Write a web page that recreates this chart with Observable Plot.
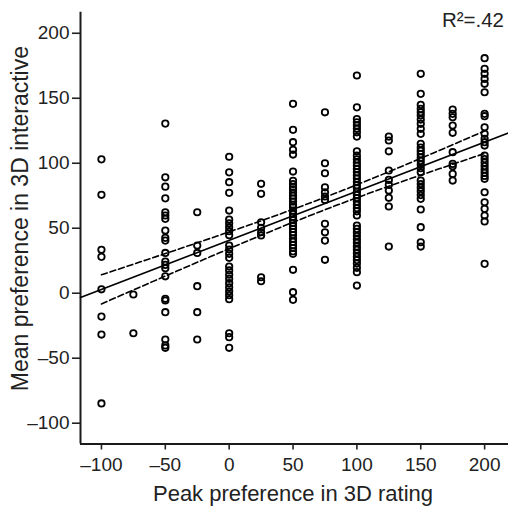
<!DOCTYPE html>
<html>
<head>
<meta charset="utf-8">
<script src="https://cdn.jsdelivr.net/npm/d3@7"></script>
<script src="https://cdn.jsdelivr.net/npm/@observablehq/plot@0.6"></script>
<style>
  html, body { margin: 0; padding: 0; background: #fff; }
  svg { display: block; }
</style>
</head>
<body>
<div id="chart"></div>
<script>
// Peak preference levels (x) and the mean interactive preference values (y) read at each level
const peakLevels = [-100, -75, -50, -25, 0, 25, 50, 75, 100, 125, 150, 175, 200];

const yAtMinus100 = [103, 75.7, 33.4, 28, 3, -18, -31.8, -84.8];
const yAtMinus75 = [-1, -30.8];
const yAtMinus50 = [130.5, 89.2, 82, 73, 62.3, 59.8, 57.2, 48.2, 42.6, 40.5, 31, 24.4, 21.8, 19.2, 13, -4.3, -5.6, -14.6, -35.6, -40.2, -42];
const yAtMinus25 = [62.3, 36.7, 31, 5.4, -14.6, -35.6];
const yAt0 = [105, 93, 85.4, 77.2, 63.6, 56.7, 53.8, 50.8, 47.7, 44.6, 36.7, 33.6, 30.3, 27.2, 20.5, 17.5, 14.2, 11.1, 7.7, 4.6, 1.5, -1.5, -4.6, -30.8, -33.8, -42];
const yAt25 = [84.2, 76.5, 54.6, 50.3, 46.9, 44.4, 12.3, 9.2];
const yAt50 = [145.7, 125.7, 116.2, 110.3, 106.7, 93.6, 86.5, 84, 81.8, 80, 77.5, 75, 72.8, 70.5, 68, 66.2, 63.5, 61, 58.8, 56.5, 54, 51.7, 49.5, 47, 44.8, 42, 39.5, 37, 34.8, 32.2, 30.3, 18, 0.8, -5.1];
const yAt75 = [139.2, 100, 92.3, 81.5, 77.7, 74.4, 71.8, 53.4, 46.9, 40.5, 25.7];
const yAt100 = [167.5, 143, 134, 131.5, 129, 126.5, 123.8, 120.5, 109.2, 105.8, 103, 100.4, 98, 95.6, 93, 90.5, 88.2, 85.5, 83, 80.7, 78, 75.6, 73.2, 70.5, 68, 65.4, 63, 59.8, 52, 49.5, 46.8, 44, 41.3, 38.8, 36, 33.5, 30.7, 28, 25.5, 22.8, 19.5, 16.2, 5.9];
const yAt125 = [120.5, 117.5, 109.2, 94.4, 87.2, 83.4, 79, 73.4, 66.7, 35.9];
const yAt150 = [168.8, 153.4, 144.9, 141.8, 139.2, 136.7, 133.6, 130.3, 126.5, 122.6, 114.9, 112, 109.5, 107, 104.3, 101.8, 99, 96.2, 93.1, 86.7, 84, 81.2, 78.5, 75.5, 72.6, 64.4, 50.8, 39.2, 35.9];
const yAt175 = [141.3, 138, 135.4, 129, 123.4, 108.5, 99.5, 97.7, 91.8, 86.7];
const yAt200 = [180.8, 172.6, 168.8, 164.9, 161.1, 154.6, 138, 136.2, 127.7, 122.6, 118.8, 116.2, 113.6, 105.9, 103.2, 100.5, 97.8, 95.2, 92.6, 90.2, 88, 77.7, 70, 64.9, 59.8, 55.2, 22.6];

const xTicks = [-100, -50, 0, 50, 100, 150, 200];
const yTicks = [-100, -50, 0, 50, 100, 150, 200];
const xTitle = "Peak preference in 3D rating";
const yTitle = "Mean preference in 3D interactive";
const r2Label = "R\u00B2=.42";

// Build the table
const columns = [yAtMinus100, yAtMinus75, yAtMinus50, yAtMinus25, yAt0, yAt25, yAt50, yAt75, yAt100, yAt125, yAt150, yAt175, yAt200];
const points = [];
columns.forEach((ys, i) => ys.forEach(y => points.push({x: peakLevels[i], y})));

// Linear regression with 95% CI of the mean
const n = points.length;
const mx = d3.mean(points, d => d.x), my = d3.mean(points, d => d.y);
const sxx = d3.sum(points, d => (d.x - mx) ** 2);
const sxy = d3.sum(points, d => (d.x - mx) * (d.y - my));
const slope = sxy / sxx, intercept = my - slope * mx;
const sse = d3.sum(points, d => (d.y - (intercept + slope * d.x)) ** 2);
const se = Math.sqrt(sse / (n - 2));
const tcrit = 1.97;

const xDomain = [-116.4, 218.7];
const yDomain = [-116, 216.2];

const fitLine = xDomain.map(x => ({x, y: intercept + slope * x}));
const ciXs = d3.range(peakLevels[0], peakLevels[peakLevels.length - 1] + 0.001, 5);
const ciUpper = ciXs.map(x => ({x, y: intercept + slope * x + tcrit * se * Math.sqrt(1 / n + (x - mx) ** 2 / sxx)}));
const ciLower = ciXs.map(x => ({x, y: intercept + slope * x - tcrit * se * Math.sqrt(1 / n + (x - mx) ** 2 / sxx)}));

const fmt = d => d < 0 ? "\u2013" + (-d) : String(d);
const ink = "#1a1a1a";

const chart = Plot.plot({
  width: 508,
  height: 506,
  marginLeft: 80,
  marginRight: 0,
  marginTop: 11.7,
  marginBottom: 62.5,
  style: {fontFamily: "'Liberation Sans', Arial, Helvetica, sans-serif", fontSize: "19px", background: "#fff", color: "#222"},
  x: {domain: xDomain},
  y: {domain: yDomain},
  marks: [
    Plot.axisX({ticks: xTicks, tickFormat: fmt, tickSize: 6, tickPadding: 7, strokeWidth: 1.6, fontSize: 19, label: null}),
    Plot.axisY({ticks: yTicks, tickFormat: fmt, tickSize: 8, tickPadding: 3, strokeWidth: 1.6, fontSize: 19, label: null}),
    Plot.ruleX([xDomain[0]], {stroke: ink, strokeWidth: 2}),
    Plot.ruleY([yDomain[0]], {stroke: ink, strokeWidth: 2}),
    Plot.dot(points, {x: "x", y: "y", r: 3.2, stroke: "#000", strokeWidth: 1.8, fill: "none"}),
    Plot.line(fitLine, {x: "x", y: "y", stroke: "#000", strokeWidth: 1.6}),
    Plot.line(ciUpper, {x: "x", y: "y", stroke: "#000", strokeWidth: 1.6, strokeDasharray: "6,3"}),
    Plot.line(ciLower, {x: "x", y: "y", stroke: "#000", strokeWidth: 1.6, strokeDasharray: "6,3"}),
    Plot.text([xTitle], {frameAnchor: "bottom", dy: 56.5, dx: -1.5, textAnchor: "middle", lineAnchor: "bottom", fontSize: 22, fill: "#222"}),
    Plot.text([yTitle], {frameAnchor: "left", dx: -53, dy: -9.5, rotate: -90, textAnchor: "middle", lineAnchor: "bottom", fontSize: 23, fill: "#222"}),
    Plot.text([r2Label], {frameAnchor: "top-right", dx: -4.5, dy: 14.8, textAnchor: "end", lineAnchor: "bottom", fontSize: 20.5, fill: "#222"})
  ]
});
document.getElementById("chart").appendChild(chart);
</script>
</body>
</html>
